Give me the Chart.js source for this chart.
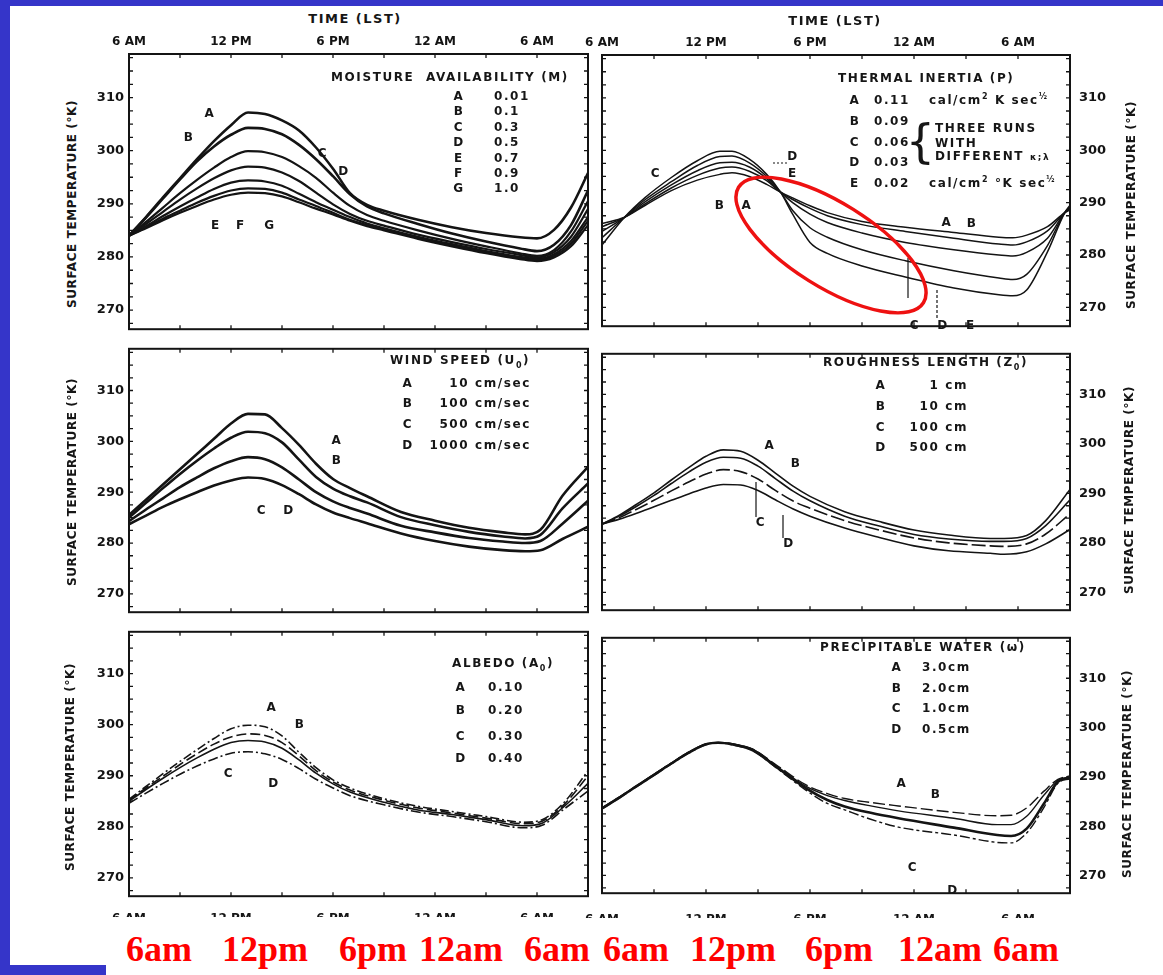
<!DOCTYPE html>
<html>
<head>
<meta charset="utf-8">
<title>Surface temperature sensitivity</title>
<script src="https://cdn.jsdelivr.net/npm/chart.js@4.4.1/dist/chart.umd.min.js"></script>
<style>
  html, body { margin: 0; padding: 0; background: #fff; }
  body { width: 1163px; height: 975px; position: relative; overflow: hidden; font-family: "DejaVu Sans", sans-serif; }
  .blue { position: absolute; background: #3535c9; }
  canvas { position: absolute; }
  .t { position: absolute; white-space: nowrap; font-weight: bold; font-size: 12px; color: #161616; letter-spacing: 1px; line-height: 1; }
  .t sup { font-size: 8px; vertical-align: 5px; }
  .lbl { font-size: 12px; font-weight: bold; letter-spacing: 1.6px; }
  .ttl { font-size: 13px; letter-spacing: 1.5px; }
  .yt { font-size: 12px; letter-spacing: 0.6px; }
  .red { font-family: "Liberation Serif", "Times New Roman", serif; font-weight: bold; color: #ff0000; font-size: 36px; letter-spacing: 0; }
  .cut { position: absolute; overflow: hidden; height: 5px; }
  .cut span { position: absolute; top: 0; transform: translateX(-50%); font: bold 12px "DejaVu Sans", sans-serif; color: #161616; white-space: nowrap; line-height: 1; }
  svg { position: absolute; left: 0; top: 0; }
</style>
</head>
<body>
<div class="blue" style="left:0;top:0;width:1163px;height:6px"></div>
<div class="blue" style="left:0;top:0;width:10px;height:975px"></div>
<div class="blue" style="left:0;top:965px;width:106px;height:10px"></div>

<script>
// ---- time axis (hours after 6 AM) and temperature axis ----
const X_TICK_HOURS = [0, 6, 12, 18, 24];
const X_TICK_LABELS = ['6 AM', '12 PM', '6 PM', '12 AM', '6 AM'];
const Y_TICKS = [270, 280, 290, 300, 310];

// ---- Moisture availability (M) ----
const HOURS_M = [0,1,2,3,4,5,6,7,8,9,10,11,12,13,14,15,17,19,21,23,24,25,26,27];
const MOIST_A = [284,287.5,291.2,294.8,298.4,301.8,304.8,307.2,306.9,305.7,303.8,300.6,296.6,292.0,289.8,288.7,287.0,285.6,284.5,283.7,283.5,285.1,289.3,295.8];
const MOIST_B = [284,287.4,291,294.6,298,300.8,303,304.3,304.1,303.1,301.1,298.4,295.2,291.8,289.5,288.2,286.2,284.4,282.9,281.6,281.1,282.3,286,292.5];
const MOIST_C = [284,286.6,289.3,292,294.5,296.8,298.8,299.9,299.7,298.8,297.1,294.9,292.1,289.6,287.9,286.8,285.0,283.4,282.0,280.7,280.2,281.3,284.8,290.5];
const MOIST_D = [284,286.2,288.5,290.8,292.9,294.8,296.3,297.0,296.8,295.9,294.3,292.1,289.9,288.1,286.8,285.9,284.2,282.8,281.5,280.4,279.9,280.9,283.8,289];
const MOIST_E = [284,285.8,287.7,289.5,291.2,292.8,294,294.4,294.2,293.4,291.9,290.3,288.9,287.5,286.3,285.4,283.8,282.4,281.1,280.0,279.6,280.5,283,287.5];
const MOIST_F = [284,285.6,287.2,288.7,290.2,291.5,292.5,292.9,292.8,292.1,290.8,289.6,288.3,287.0,286.0,285.2,283.6,282.2,280.9,279.8,279.4,280.2,282.5,286.8];
const MOIST_G = [284,285.4,286.9,288.3,289.6,290.8,291.7,292.1,292.0,291.4,290.3,289.1,288.0,286.8,285.8,285.0,283.4,282.0,280.7,279.6,279.2,279.9,282,286];

// ---- Wind speed (U0) ----
const HOURS_W = [0,1,2,3,4,5,6,7,8,9,10,11,12,13,14,16,18,20,22,23.3,24.2,25.5,27];
const WIND_A = [285.5,288.5,291.5,294.5,297.5,300.5,303.5,305.4,305.3,302.6,299.3,295.6,292.6,290.8,289.2,286.1,284.4,283.0,282.1,281.7,282.6,289.3,295];
const WIND_B = [285,287.9,290.8,293.6,296.2,298.6,300.7,301.9,301.6,299.8,296.4,293.0,290.7,289.2,288,285.1,283.5,282.2,281.3,280.9,281.6,286.8,291.7];
const WIND_C = [284.3,286.6,288.8,291,292.9,294.7,296.1,296.9,296.5,294.9,292.5,290,288.2,286.9,285.8,283.4,282.1,281.0,280.3,280.0,280.4,283.8,288.3];
const WIND_D = [283.7,285.4,287.1,288.6,290,291.3,292.3,292.9,292.6,291.4,289.6,287.6,286.0,284.9,283.9,281.9,280.4,279.3,278.6,278.4,278.6,280.8,283.2];

// ---- Albedo (A0) ----
const HOURS_AL = [0,1,2,3,4,5,6,7,8,9,10,11,12,13,15,17,19,21,23.2,24.3,25.6,27];
const ALB_A = [285.4,287.9,290.4,292.8,295.1,297.3,299.2,299.9,299.6,297.8,294.6,291.6,289.2,287.6,285.5,284,283,282.0,280.9,281.4,284.8,291];
const ALB_B = [285.2,287.6,289.9,292.2,294.3,296.2,297.6,298.2,297.9,296.5,293.9,291,288.8,287.2,285.2,283.7,282.7,281.7,280.6,281.1,284.4,290];
const ALB_C = [285,287.3,289.5,291.6,293.5,295.2,296.5,296.9,296.6,295.4,293.1,290.5,288.4,286.8,284.8,283.3,282.4,281.4,280.2,280.7,284,288.5];
const ALB_D = [284.6,286.6,288.5,290.3,291.9,293.3,294.4,294.7,294.3,293.2,291.4,289.3,287.6,286.1,284.3,282.9,282.0,281.0,279.8,280.3,283.5,287];

// ---- Thermal inertia (P) ----
const HOURS_TI = [0,1.3,2.5,4,5.5,6.8,7.5,8.5,9.5,10.3,11,12,13,15,17.5,20.3,22.9,23.7,24.5,25.7,26.7,27];
const TI_A = [286,287.2,289.5,292.3,294.3,295.4,295.7,295,293.5,292,290.9,289.4,288.1,286.4,285.3,284.3,283.4,283.3,283.8,285.4,288.1,288.6];
const TI_B = [285.4,287.2,289.8,292.8,295.2,296.6,296.8,296,294.2,292,290.6,288.9,287.5,285.8,284.5,283.2,282.1,281.9,282.5,284.6,288.1,288.8];
const TI_C = [284.5,287.2,290.2,293.4,296.1,297.6,297.7,296.8,294.6,292,290,287.8,286.2,284.2,282.4,281,280.0,279.8,280.5,283.2,288.1,289];
const TI_D = [283.3,287.2,290.6,294,297.1,298.8,298.9,297.6,295,292,288.5,285.2,283.4,281,278.9,277,275.6,275.3,276.3,281.8,288.1,289.2];
const TI_E = [281.9,287.2,291,294.8,298,299.8,299.8,298.3,295.4,292,287.8,282.4,280.3,277.9,275.8,273.7,272.4,272.2,273.3,280.6,288.1,289.5];

// ---- Roughness length (Z0) ----
const HOURS_R = [0,1,2,3,4,5,6,7,8,9,10,11,12,14,16,18,20,22.4,23.2,24.5,25.6,27];
const ROUGH_A = [283.8,285.6,287.8,290.1,292.7,295.2,297.5,298.8,298.5,296.7,294.1,291.5,289.4,286.3,284.3,282.6,281.6,280.9,280.9,281.5,284.5,290.8];
const ROUGH_B = [283.8,285.4,287.4,289.6,292,294.3,296.3,297.3,297.1,295.5,293,290.5,288.5,285.4,283.4,281.7,280.8,280.3,280.3,280.9,283.5,288.7];
const ROUGH_C = [283.8,285.1,286.8,288.6,290.5,292.3,293.9,294.8,294.4,292.9,290.6,288.5,287,284.5,282.6,281.0,280.0,279.4,279.3,279.8,281.8,285.9];
const ROUGH_D = [283.8,284.8,286,287.3,288.6,289.9,291.1,291.8,291.7,290.6,288.7,286.9,285.4,283,281.1,279.4,278.4,277.9,277.7,278.2,279.8,282.7];

// ---- Precipitable water (w) ----
const HOURS_P = [0,1,2,3,4,5,6,6.7,7.5,8.7,10.1,11.8,13,14,15.5,17.1,20.3,22.8,23.6,24.5,25.5,26.3,27];
const PW_A = [283.7,285.9,288.2,290.5,292.8,295.0,296.7,297.0,296.7,295.6,292.3,288.3,286.6,285.6,284.8,284.1,282.8,282.1,282.2,283.7,287.1,289.5,290.2];
const PW_B = [283.7,285.9,288.2,290.5,292.8,295.0,296.7,297.0,296.7,295.6,292.1,288,286.2,285.2,284.1,283.1,281.6,280.3,280.3,282,286.3,289.3,290];
const PW_C = [283.6,285.8,288.1,290.4,292.7,294.9,296.6,296.9,296.6,295.4,291.9,287.6,285.3,284.0,282.7,281.6,279.7,278.2,278.0,279.5,284.6,289,289.8];
const PW_D = [283.5,285.7,288,290.3,292.6,294.8,296.5,296.9,296.5,295.3,291.7,287.2,284.6,283.3,281.4,279.8,278.2,276.7,276.6,278.6,283.8,288.7,289.6];

const Y_MIN = 266.4, Y_MAX = 318.2, X_MAX = 27;
const INK = '#141414';
const TICK_FONT = { family: 'DejaVu Sans', size: 13, weight: 'bold' };
const XTICK_FONT = { family: 'DejaVu Sans', size: 12, weight: 'bold' };

// Box outline plus the small inward tick marks on every edge
const framePlugin = {
  id: 'frame',
  afterDraw(chart) {
    const { ctx, chartArea: a, scales: { x, y } } = chart;
    ctx.save();
    ctx.strokeStyle = INK;
    ctx.lineWidth = 2;
    ctx.strokeRect(a.left, a.top, a.right - a.left, a.bottom - a.top);
    ctx.lineWidth = 1.3;
    ctx.beginPath();
    for (let h = 3; h < X_MAX; h += 3) {
      const px = x.getPixelForValue(h);
      ctx.moveTo(px, a.top); ctx.lineTo(px, a.top + 4);
      ctx.moveTo(px, a.bottom); ctx.lineTo(px, a.bottom - 4);
    }
    for (let v = 267.5; v < Y_MAX; v += 2.5) {
      const py = y.getPixelForValue(v);
      ctx.moveTo(a.left, py); ctx.lineTo(a.left + 4, py);
      ctx.moveTo(a.right, py); ctx.lineTo(a.right - 4, py);
    }
    ctx.stroke();
    ctx.restore();
  }
};

function panel(plot, side, topAxis, hours, series) {
  const yW = side === 'left' ? 46 : 52;
  const xH = topAxis ? 26 : 0;
  const padL = side === 'left' ? 0 : 28;
  const padR = side === 'left' ? 4 : 0;
  const padT = topAxis ? 0 : 3;
  const padB = 3;
  const cv = document.createElement('canvas');
  const left = plot.x - (side === 'left' ? yW : padL);
  const top = plot.y - xH - padT;
  const w = plot.w + yW + padL + padR;
  const h = plot.h + xH + padT + padB;
  cv.width = w; cv.height = h;
  cv.style.left = left + 'px'; cv.style.top = top + 'px';
  cv.style.width = w + 'px'; cv.style.height = h + 'px';
  document.body.appendChild(cv);

  new Chart(cv, {
    type: 'line',
    data: {
      datasets: series.map(s => ({
        data: hours.map((hr, i) => ({ x: hr, y: s.v[i] })),
        borderColor: INK,
        borderWidth: s.w,
        borderDash: s.dash || [],
        pointRadius: 0,
        cubicInterpolationMode: 'monotone',
        fill: false
      }))
    },
    options: {
      responsive: false,
      animation: false,
      devicePixelRatio: 1,
      layout: { autoPadding: false, padding: { left: padL, right: padR, top: padT, bottom: padB } },
      plugins: { legend: { display: false }, tooltip: { enabled: false } },
      scales: {
        x: {
          type: 'linear', position: 'top', min: 0, max: X_MAX, display: topAxis,
          afterBuildTicks: s => { s.ticks = X_TICK_HOURS.map(v => ({ value: v })); },
          afterFit: s => { s.height = xH; },
          grid: { display: false, drawTicks: false }, border: { display: false },
          ticks: {
            autoSkip: false, maxRotation: 0, padding: 5, color: INK, font: XTICK_FONT,
            callback: v => X_TICK_LABELS[X_TICK_HOURS.indexOf(v)]
          }
        },
        y: {
          type: 'linear', position: side, min: Y_MIN, max: Y_MAX,
          afterBuildTicks: s => { s.ticks = Y_TICKS.map(v => ({ value: v })); },
          afterFit: s => { s.width = yW; },
          grid: { display: false, drawTicks: false }, border: { display: false },
          ticks: { padding: side === 'left' ? 5 : 9, color: INK, font: TICK_FONT }
        }
      }
    },
    plugins: [framePlugin]
  });
}

const L = { x: 129, w: 459 }, R = { x: 602, w: 468 };

panel({ x: L.x, w: L.w, y: 54, h: 285 }, 'left', true, HOURS_M, [
  { v: MOIST_A, w: 2.6 }, { v: MOIST_B, w: 2.6 }, { v: MOIST_C, w: 2.2 }, { v: MOIST_D, w: 2.2 },
  { v: MOIST_E, w: 2.2 }, { v: MOIST_F, w: 2.2 }, { v: MOIST_G, w: 2.2 }
]);
panel({ x: L.x, w: L.w, y: 339, h: 283 }, 'left', false, HOURS_W, [
  { v: WIND_A, w: 2.6 }, { v: WIND_B, w: 2.6 }, { v: WIND_C, w: 2.6 }, { v: WIND_D, w: 2.6 }
]);
panel({ x: L.x, w: L.w, y: 622, h: 284 }, 'left', false, HOURS_AL, [
  { v: ALB_A, w: 1.6, dash: [9, 3, 2, 3] }, { v: ALB_B, w: 1.6, dash: [10, 4] },
  { v: ALB_C, w: 1.6 }, { v: ALB_D, w: 1.6, dash: [10, 3, 2, 3] }
]);
panel({ x: R.x, w: R.w, y: 55, h: 285 }, 'right', true, HOURS_TI, [
  { v: TI_A, w: 1.5 }, { v: TI_B, w: 1.5 }, { v: TI_C, w: 1.5 }, { v: TI_D, w: 1.5 }, { v: TI_E, w: 1.5 }
]);
panel({ x: R.x, w: R.w, y: 340, h: 284 }, 'right', false, HOURS_R, [
  { v: ROUGH_A, w: 1.6 }, { v: ROUGH_B, w: 1.6 }, { v: ROUGH_C, w: 1.6, dash: [14, 4] }, { v: ROUGH_D, w: 1.6 }
]);
panel({ x: R.x, w: R.w, y: 624, h: 283 }, 'right', false, HOURS_P, [
  { v: PW_A, w: 1.4, dash: [12, 4] }, { v: PW_B, w: 1.4 }, { v: PW_C, w: 2.6 }, { v: PW_D, w: 1.4, dash: [10, 3, 3, 3] }
]);

// ---- text: axis titles, legends, curve letters ----
function put(html, x, y, cls, align) {
  const d = document.createElement('div');
  d.className = 't ' + (cls || '');
  d.innerHTML = html;
  d.style.left = x + 'px';
  d.style.top = y + 'px';
  const tf = {
    l: 'translate(0,-50%)', r: 'translate(-100%,-50%)', c: 'translate(-50%,-50%)',
    v: 'translate(-50%,-50%) rotate(-90deg)', tl: 'none'
  };
  d.style.transform = tf[align || 'l'];
  document.body.appendChild(d);
  return d;
}

put('TIME (LST)', 355, 18, 'ttl', 'c');
put('TIME (LST)', 835, 20, 'ttl', 'c');

// lower time labels, trimmed by the caption box below the panels
[[L.x, L.w, 912], [R.x, R.w, 913]].forEach(([x0, w, y0]) => {
  const box = document.createElement('div');
  box.className = 'cut';
  box.style.left = (x0 - 30) + 'px';
  box.style.top = y0 + 'px';
  box.style.width = (w + 60) + 'px';
  X_TICK_HOURS.forEach((hr, i) => {
    const s = document.createElement('span');
    s.textContent = X_TICK_LABELS[i];
    s.style.left = (30 + hr / X_MAX * w) + 'px';
    box.appendChild(s);
  });
  document.body.appendChild(box);
});

const YT = 'SURFACE TEMPERATURE (°K)';
[[72, 204], [72, 482], [70, 767]].forEach(p => put(YT, p[0], p[1], 'yt', 'v'));
[[1131, 205], [1129, 490], [1127, 774]].forEach(p => put(YT, p[0], p[1], 'yt', 'v'));

// moisture availability legend
put('MOISTURE&nbsp; AVAILABILITY (M)', 331, 77, 'lbl');
['A','B','C','D','E','F','G'].forEach((k, i) => {
  const y = 96 + i * 15.4;
  put(k, 459, y, 'lbl', 'c');
  put(['0.01','0.1','0.3','0.5','0.7','0.9','1.0'][i], 494, y, 'lbl');
});
[['A',210,113],['B',189,137],['C',323,153],['D',344,171],['E',216,225],['F',241,225],['G',270,225]]
  .forEach(p => put(p[0], p[1], p[2], 'lbl', 'c'));

// wind speed legend
put('WIND SPEED (U<sub style="font-size:8px">0</sub>)', 390, 362, 'lbl');
['A','B','C','D'].forEach((k, i) => {
  const y = [383, 403, 424, 445][i];
  put(k, 408, y, 'lbl', 'c');
  put(['10 cm/sec','100 cm/sec','500 cm/sec','1000 cm/sec'][i], 531, y, 'lbl', 'r');
});
[['A',337,440],['B',337,460],['C',262,510],['D',289,510]].forEach(p => put(p[0], p[1], p[2], 'lbl', 'c'));

// albedo legend
put('ALBEDO (A<sub style="font-size:8px">0</sub>)', 452, 665, 'lbl');
['A','B','C','D'].forEach((k, i) => {
  const y = [687, 710, 736, 758][i];
  put(k, 461, y, 'lbl', 'c');
  put(['0.10','0.20','0.30','0.40'][i], 488, y, 'lbl');
});
[['A',272,707],['B',300,724],['C',229,773],['D',274,783]].forEach(p => put(p[0], p[1], p[2], 'lbl', 'c'));

// thermal inertia legend
put('THERMAL INERTIA (P)', 838, 78, 'lbl');
['A','B','C','D','E'].forEach((k, i) => {
  const y = [100, 121, 142, 162, 183][i];
  put(k, 855, y, 'lbl', 'c');
  put(['0.11','0.09','0.06','0.03','0.02'][i], 874, y, 'lbl');
});
put('cal/cm<sup>2</sup> K sec<sup>½</sup>', 929, 99, 'lbl');
put('cal/cm<sup>2</sup> °K sec<sup>½</sup>', 929, 182, 'lbl');
put('{', 921, 141, '', 'c').style.cssText += 'font-size:46px;font-weight:normal;';
put('THREE RUNS', 935, 128, 'lbl');
put('WITH', 935, 143, 'lbl');
put('DIFFERENT <span style="font-size:9px">κ;λ</span>', 935, 156, 'lbl');
[['C',656,173],['B',720,205],['A',747,205],['D',793,156],['E',793,173],
 ['A',947,222],['B',972,223],['C',915,325],['D',943,325],['E',971,325]]
  .forEach(p => put(p[0], p[1], p[2], 'lbl', 'c'));

// roughness length legend
put('ROUGHNESS LENGTH (Z<sub style="font-size:8px">0</sub>)', 823, 364, 'lbl');
['A','B','C','D'].forEach((k, i) => {
  const y = [385, 406, 427, 447][i];
  put(k, 881, y, 'lbl', 'c');
  put(['1 cm','10 cm','100 cm','500 cm'][i], 968, y, 'lbl', 'r');
});
[['A',770,445],['B',796,463],['C',761,522],['D',789,543]].forEach(p => put(p[0], p[1], p[2], 'lbl', 'c'));

// precipitable water legend
put('PRECIPITABLE WATER (ω)', 820, 647, 'lbl');
['A','B','C','D'].forEach((k, i) => {
  const y = [667, 688, 708, 729][i];
  put(k, 897, y, 'lbl', 'c');
  put(['3.0cm','2.0cm','1.0cm','0.5cm'][i], 922, y, 'lbl');
});
[['A',902,783],['B',936,794],['C',913,867],['D',953,890]].forEach(p => put(p[0], p[1], p[2], 'lbl', 'c'));

// local time labels along the bottom
[['6am',126],['12pm',222],['6pm',339],['12am',419],['6am',524],
 ['6am',603],['12pm',690],['6pm',805],['12am',898],['6am',993]]
  .forEach(p => put(p[0], p[1], 931, 'red', 'tl'));
</script>

<svg width="1163" height="975" viewBox="0 0 1163 975">
  <!-- leader lines beside the curves -->
  <g stroke="#141414" stroke-width="1.2" fill="none">
    <line x1="756" y1="482" x2="756" y2="517"/>
    <line x1="783" y1="515" x2="783" y2="538"/>
    <line x1="908" y1="258" x2="908" y2="298"/>
    <line x1="937" y1="290" x2="937" y2="318" stroke-dasharray="3 2"/>
    <line x1="773" y1="163" x2="787" y2="163" stroke-dasharray="2 2"/>
  </g>
  <!-- highlight around the night-time divergence -->
  <ellipse cx="831" cy="245" rx="109" ry="42" transform="rotate(32 831 245)"
           fill="none" stroke="#ee1111" stroke-width="3.5"/>
</svg>
</body>
</html>
